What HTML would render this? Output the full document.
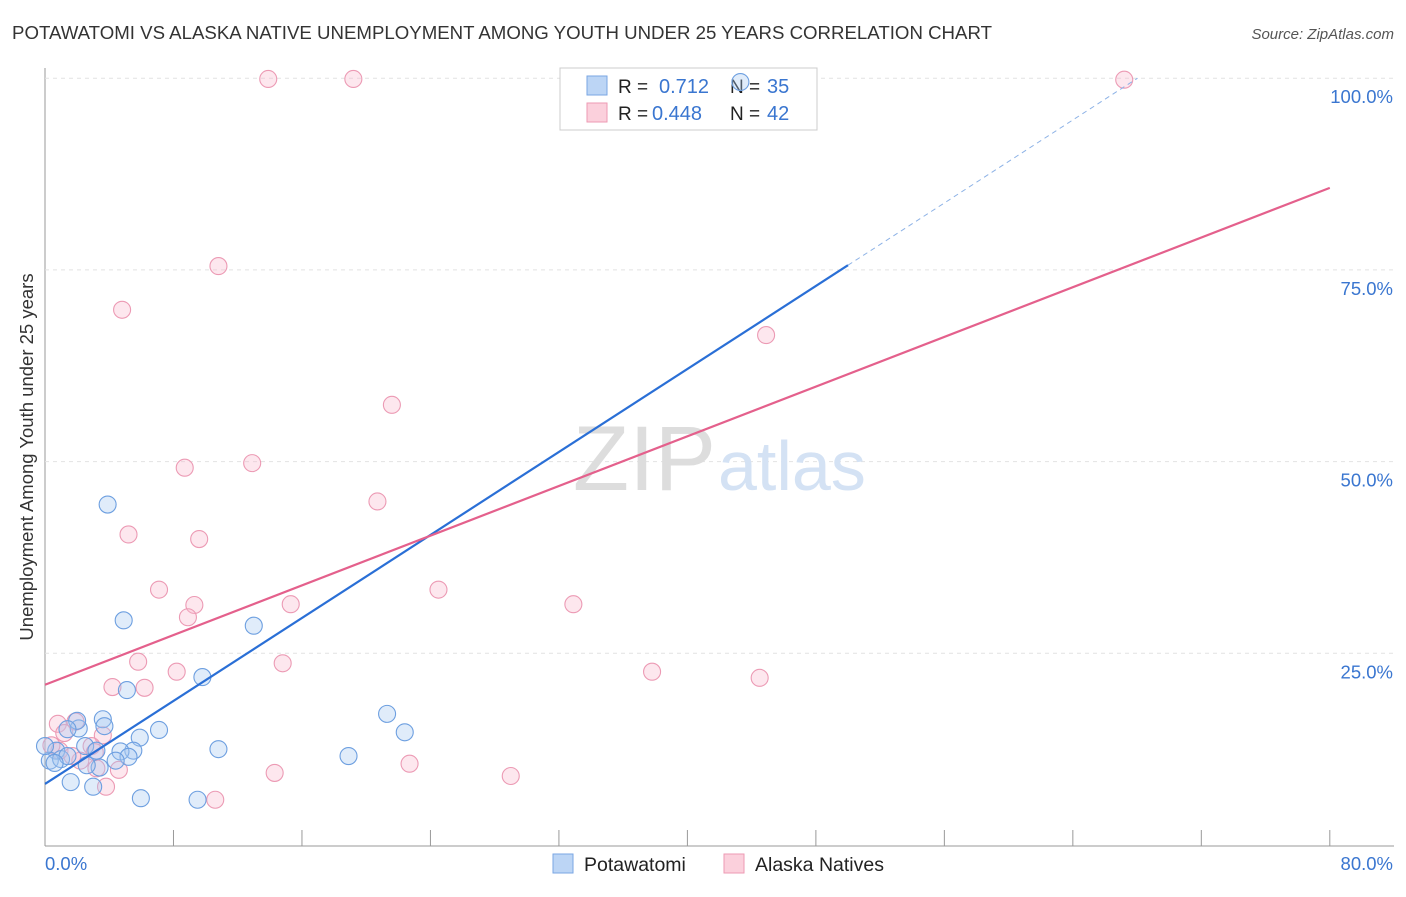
<!DOCTYPE html>
<html><head><meta charset="utf-8"><style>
body{margin:0;background:#fff;font-family:"Liberation Sans",sans-serif}
svg text{font-family:"Liberation Sans",sans-serif}
</style></head><body>
<svg id="c" width="1406" height="892">
<text x="12" y="39" font-size="18" fill="#333" textLength="980" lengthAdjust="spacingAndGlyphs">POTAWATOMI VS ALASKA NATIVE UNEMPLOYMENT AMONG YOUTH UNDER 25 YEARS CORRELATION CHART</text>
<text x="1394" y="39" font-size="15" fill="#555" font-style="italic" text-anchor="end">Source: ZipAtlas.com</text>
<text x="0" y="0" transform="translate(33,457) rotate(-90)" font-size="18.5" fill="#333" text-anchor="middle">Unemployment Among Youth under 25 years</text>
<g id="grid"></g>
<text x="716" y="490" font-size="92" fill="#ddd" text-anchor="end" font-family="Liberation Serif">ZIP</text>
<text x="718" y="490" font-size="70" fill="#d4e2f4">atlas</text>
<g>
<rect x="560" y="68" width="257" height="62" fill="#fff" stroke="#ccc"/>
<rect x="587" y="76" width="20" height="19" fill="#bcd5f5" stroke="#7aa6e3"/>
<rect x="587" y="103" width="20" height="19" fill="#fbd0dc" stroke="#ee9ab3"/>
<text x="618" y="93" font-size="19" fill="#222">R =</text>
<text x="659" y="93" font-size="20" fill="#3a76d0">0.712</text>
<text x="730" y="93" font-size="19" fill="#222">N =</text>
<text x="767" y="93" font-size="20" fill="#3a76d0">35</text>
<text x="618" y="120" font-size="19" fill="#222">R =</text>
<text x="652" y="120" font-size="20" fill="#3a76d0">0.448</text>
<text x="730" y="120" font-size="19" fill="#222">N =</text>
<text x="767" y="120" font-size="20" fill="#3a76d0">42</text>
</g>
<g id="pts"></g>
<g id="lines"></g>
<g>
<rect x="553" y="854" width="20" height="19" fill="#bcd5f5" stroke="#7aa6e3"/>
<text x="584" y="871" font-size="19.5" fill="#222">Potawatomi</text>
<rect x="724" y="854" width="20" height="19" fill="#fbd0dc" stroke="#ee9ab3"/>
<text x="755" y="871" font-size="19.5" fill="#222">Alaska Natives</text>
</g>
</svg>
<script>
const yTicks=[25,50,75,100];
const yTickLabels=["25.0%","50.0%","75.0%","100.0%"];
const xEndLabels=["0.0%","80.0%"];
const blueX=[3.9,4.9,13.0,5.1,9.8,3.6,7.1,21.3,22.4,18.9,10.8,5.9,5.5,4.7,5.2,4.4,3.4,2.6,1.6,3.0,5.97,9.5,2.1,2.0,0.7,0.3,1.0,1.4,0.0,0.6,3.7,2.5,3.2,1.4,43.3];
const blueY=[44.4,29.3,28.6,20.2,21.9,16.4,15.0,17.1,14.7,11.6,12.5,14.0,12.3,12.2,11.5,11.0,10.1,10.4,8.2,7.6,6.1,5.9,15.2,16.2,12.3,11.0,11.2,11.6,12.9,10.7,15.5,12.9,12.3,15.1,99.5];
const pinkX=[13.9,19.2,67.2,10.8,4.8,44.9,21.6,8.7,12.9,20.7,5.2,9.6,7.1,24.5,9.3,8.9,15.3,32.9,5.8,14.8,8.2,37.8,44.5,4.2,6.2,0.8,1.9,3.6,2.9,0.9,0.4,2.2,1.7,4.6,3.2,14.3,22.7,29.0,3.8,10.6,1.2,3.1];
const pinkY=[99.9,99.9,99.8,75.5,69.8,66.5,57.4,49.2,49.8,44.8,40.5,39.9,33.3,33.3,31.3,29.7,31.4,31.4,23.9,23.7,22.6,22.6,21.8,20.6,20.5,15.8,16.1,14.3,12.9,12.3,13.0,11.0,11.6,9.8,10.0,9.4,10.6,9.0,7.6,5.9,14.6,12.1];
const blueFit=[7.96,1.353];
const pinkFit=[20.9,0.81];
const X=v=>45+v*16.06, Y=v=>845-v*7.668;
const NS="http://www.w3.org/2000/svg";
function mk(t,a,p){const e=document.createElementNS(NS,t);for(const k in a)e.setAttribute(k,a[k]);p.appendChild(e);return e;}
const g=document.getElementById('grid');
mk('line',{x1:45,y1:68,x2:45,y2:846,stroke:'#999'},g);
mk('line',{x1:45,y1:846,x2:1394,y2:846,stroke:'#999'},g);
for(let i=0;i<=10;i++){const l=mk('line',{x1:X(i*8),x2:X(i*8),y1:830,y2:846,stroke:'#999'},g);

}
yTicks.forEach((v,i)=>{const l=mk('line',{x1:45,x2:1394,y1:Y(v),y2:Y(v),stroke:'#e2e2e2','stroke-dasharray':'4,4'},g);


const t=mk('text',{x:1393,y:Y(v)+25,'font-size':18.5,fill:'#3a76d0','text-anchor':'end'},g);t.textContent=yTickLabels[i];

});
const xl=mk('text',{x:45,y:870,'font-size':18.5,fill:'#3a76d0','text-anchor':'start'},g);xl.textContent=xEndLabels[0];


const xr=mk('text',{x:1393,y:870,'font-size':18.5,fill:'#3a76d0','text-anchor':'end'},g);xr.textContent=xEndLabels[1];


const p=document.getElementById('pts');
pinkX.forEach((x,i)=>{const c=mk('circle',{cx:X(x),cy:Y(pinkY[i]),r:8.5,fill:'rgba(248,185,205,0.35)',stroke:'#ec9ab4','stroke-width':1.1},p);

});
blueX.forEach((x,i)=>{const c=mk('circle',{cx:X(x),cy:Y(blueY[i]),r:8.5,fill:'rgba(165,200,240,0.35)',stroke:'#6d9fe0','stroke-width':1.1},p);

});
const L=document.getElementById('lines');
const bEnd=50;
const b1=mk('line',{x1:X(0),y1:Y(blueFit[0]),x2:X(bEnd),y2:Y(blueFit[0]+blueFit[1]*bEnd),stroke:'#2a6fd6','stroke-width':2.2},L);


const xd=(100-blueFit[0])/blueFit[1];
const b2=mk('line',{x1:X(bEnd),y1:Y(blueFit[0]+blueFit[1]*bEnd),x2:X(xd),y2:Y(100),stroke:'#8db2e6','stroke-width':1,'stroke-dasharray':'5,4'},L);


const pl=mk('line',{x1:X(0),y1:Y(pinkFit[0]),x2:X(80),y2:Y(pinkFit[0]+pinkFit[1]*80),stroke:'#e4608c','stroke-width':2.2},L);


</script>
</body></html>
